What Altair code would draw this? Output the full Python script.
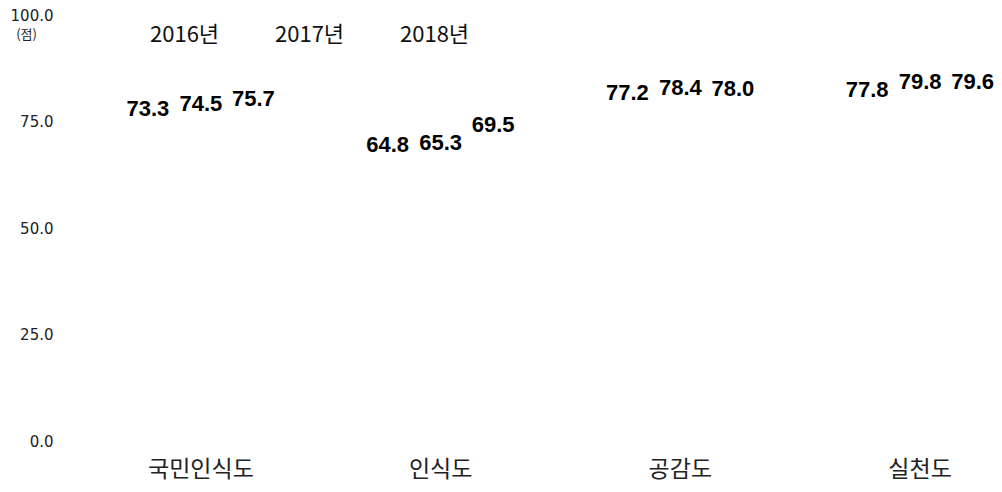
import altair as alt
import pandas as pd

categories = ["국민인식도", "인식도", "공감도", "실천도"]
years = ["2016년", "2017년", "2018년"]
v2016 = [73.3, 64.8, 77.2, 77.8]
v2017 = [74.5, 65.3, 78.4, 79.8]
v2018 = [75.7, 69.5, 78.0, 79.6]

rows = []
for i, c in enumerate(categories):
    for y, vals in zip(years, [v2016, v2017, v2018]):
        rows.append({"category": c, "year": y, "value": vals[i]})
df = pd.DataFrame(rows)

x_enc = alt.X(
    "category:N",
    sort=categories,
    scale=alt.Scale(type="band", paddingInner=0.5, paddingOuter=0),
    axis=alt.Axis(
        title=None, labelAngle=0, domain=False, ticks=False, labelPadding=17,
        labelFont="Noto Sans CJK KR", labelFontSize=23, labelColor="#222",
    ),
)
y_enc = alt.Y(
    "value:Q",
    scale=alt.Scale(domain=[0, 100], nice=False),
    axis=alt.Axis(
        values=[0, 25, 50, 75, 100], format=".1f", grid=False, domain=False,
        ticks=False, labelPadding=88, labelFont="DejaVu Sans", labelFontSize=15,
        labelColor="#222", title="(점)", titleAngle=0, titleX=-115, titleY=19,
        titleAlign="center", titleBaseline="middle", titleFont="Noto Sans CJK KR",
        titleFontSize=13, titleFontWeight="normal", titleColor="#222",
    ),
)
color_enc = alt.Color(
    "year:N",
    sort=years,
    scale=alt.Scale(domain=years, range=["#000000", "#000000", "#000000"]),
    legend=alt.Legend(
        title=None, orient="none", direction="horizontal", legendX=-13, legendY=9,
        symbolSize=0, symbolOpacity=0, symbolStrokeWidth=0, labelOffset=0,
        labelFont="Noto Sans CJK KR", labelFontSize=22, labelColor="#111",
        columnPadding=33,
    ),
)

offsets = [-53, 0, 52.5]
layers = []
for y, dx in zip(years, offsets):
    layers.append(
        alt.Chart(df)
        .transform_filter(alt.datum.year == y)
        .mark_text(
            font="Liberation Sans", fontWeight="bold", fontSize=22,
            baseline="alphabetic", dx=dx, dy=-12.5,
        )
        .encode(x=x_enc, y=y_enc, color=color_enc, text=alt.Text("value:Q", format=".1f"))
    )

chart = (
    alt.layer(*layers)
    .properties(
        width=839, height=426,
        background="white",
        autosize=alt.AutoSizeParams(type="none"),
        padding={"left": 133, "top": 7, "right": 14, "bottom": 43},
    )
    .configure_view(strokeWidth=0, stroke="transparent")
)

chart.save("out.html", embed_options={"renderer": "svg", "actions": False})
